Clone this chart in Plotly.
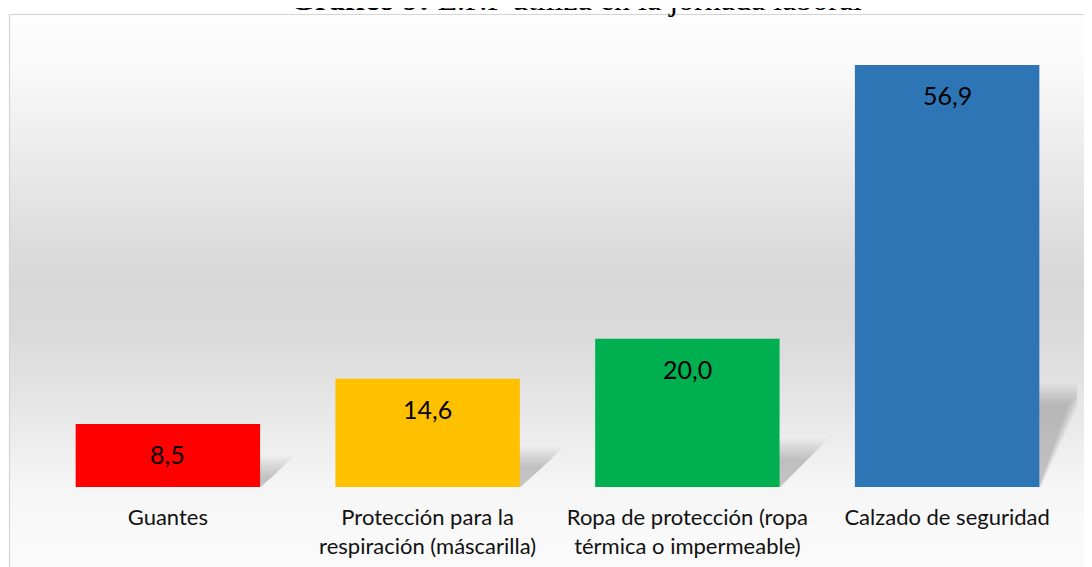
import plotly.graph_objects as go

categories = ["Guantes", "Protección para la<br>respiración (máscarilla)",
              "Ropa de protección (ropa<br>térmica o impermeable)", "Calzado de seguridad"]
values = [8.5, 14.6, 20.0, 56.9]
value_labels = ["8,5", "14,6", "20,0", "56,9"]
colors = ["#FF0000", "#FFC000", "#00B050", "#2E75B6"]
title_bold = "Gráfico 9:"
title_rest = " E.P.P utiliza en la jornada laboral"

OFF = 8  # page body margin
PAGE_W, PAGE_H = 1092, 567
W, H = PAGE_W - OFF, PAGE_H - OFF
# plot area in page pixels
PL, PR, PT, PB = 38, 1077, 42, 487
L, T = PL - OFF, PT - OFF
R = W - (PR - OFF)
B = H - (PB - OFF)
PW, PH = PR - PL, PB - PT
YMAX = 60
BARW = 0.71
xs = list(range(len(categories)))


def px2paper_x(px):  # px in page coordinates
    return (px - PL) / PW


def px2paper_y(py):
    return (PB - py) / PH


fig = go.Figure()
fig.add_trace(go.Bar(x=xs, y=values, marker=dict(color=colors, line=dict(width=0)),
                     width=BARW, hoverinfo="skip"))

shapes = []
# background gradient (chart area)
stops = [(14, 254), (60, 250), (100, 244), (167, 233), (233, 222), (280, 216),
         (333, 218), (383, 226), (433, 235), (483, 245), (530, 249), (567, 250)]


def gray_at(py):
    for (y0, g0), (y1, g1) in zip(stops[:-1], stops[1:]):
        if y0 <= py <= y1:
            return g0 + (g1 - g0) * (py - y0) / (y1 - y0)
    return stops[-1][1]


step = 3
py = 15
while py < PAGE_H:
    g = int(round(gray_at(py + step / 2)))
    shapes.append(dict(type="rect", xref="paper", yref="paper", layer="below",
                       x0=px2paper_x(10), x1=px2paper_x(PAGE_W + 5),
                       y0=px2paper_y(py), y1=px2paper_y(py + step + 0.6),
                       fillcolor=f"rgb({g},{g},{g})", line=dict(width=0)))
    py += step

# chart border
shapes.append(dict(type="rect", xref="paper", yref="paper", layer="below",
                   x0=px2paper_x(9.5), x1=px2paper_x(PAGE_W + 10),
                   y0=px2paper_y(PAGE_H + 10), y1=px2paper_y(14.5),
                   line=dict(color="#d4d4d4", width=1.2), fillcolor="rgba(0,0,0,0)"))

# soft perspective shadows for bars (size derived from bar height)
ux = len(categories) / PW   # category units per pixel
uy = YMAX / PH              # value units per pixel
for i, v in enumerate(values):
    hpx = v / uy
    hs_px = min(0.2 * hpx + 10, 95)
    dx_px = min(hs_px * 1.12, 40)
    xl = i - BARW / 2 + 0.03
    xr = i + BARW / 2
    for e in [-14, -11, -8, -5, -2, 1, 4, 7, 10]:
        top = max(hs_px + e * 0.8, 3) * uy
        dx = (dx_px + e * 0.8) * ux
        xr_b = xr + max(e, 0) * 0.2 * ux
        path = (f"M {xl},0 L {xr_b},0 L {xr + dx},{top} L {xl + dx},{top} Z")
        shapes.append(dict(type="path", xref="x", yref="y", layer="below", path=path,
                           fillcolor="rgba(40,40,40,0.026)", line=dict(width=0)))

annotations = []
for i, (v, t) in enumerate(zip(values, value_labels)):
    annotations.append(dict(x=i, y=v, xref="x", yref="y", text=t, showarrow=False,
                            yanchor="middle", yshift=-30,
                            font=dict(family="Lato", size=25, color="#000000")))

annotations.append(dict(xref="paper", yref="paper", x=px2paper_x(576), y=px2paper_y(19),
                        xanchor="center", yanchor="bottom", showarrow=False,
                        text=f"<b>{title_bold}</b>{title_rest}",
                        font=dict(family="Liberation Serif", size=32, color="#000000")))

fig.update_layout(
    width=W, height=H,
    margin=dict(l=L, r=R, t=T, b=B, autoexpand=False),
    paper_bgcolor="white", plot_bgcolor="rgba(0,0,0,0)",
    showlegend=False,
    shapes=shapes, annotations=annotations,
    xaxis=dict(range=[-0.5, len(categories) - 0.5], tickvals=xs, ticktext=categories,
               showgrid=False, zeroline=False, showline=False, ticks="",
               tickfont=dict(family="Lato", size=22, color="#111111"),
               ticklabelstandoff=15, automargin=False, fixedrange=True),
    yaxis=dict(range=[0, YMAX], visible=False, automargin=False, fixedrange=True),
)

fig.write_html("out.html")
